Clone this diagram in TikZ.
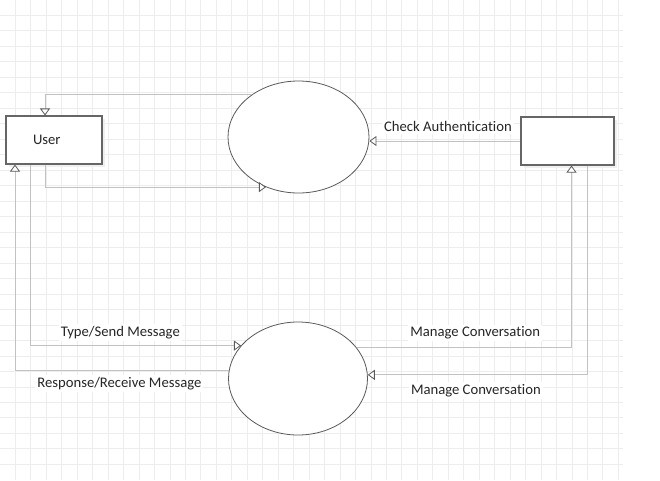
\documentclass[tikz,border=0pt]{standalone}
\usepackage{xcolor}
\usepackage{fontspec}
\setmainfont{Carlito}[Ligatures=NoCommon]
\usepackage{tikz}
\usetikzlibrary{shapes,arrows.meta,shadows}

\definecolor{gridgray}{HTML}{EDEDED}
\definecolor{linegray}{HTML}{C2C2C2}
\definecolor{edgegray}{HTML}{5A5A5A}

\begin{document}
\begin{tikzpicture}[
    x=1pt, y=-1pt,
    box/.style={draw=black!60, line width=1.1pt, fill=white, minimum height=48pt, align=left,
        drop shadow={shadow xshift=3pt, shadow yshift=-3pt, fill=black!6, opacity=1}},
    proc/.style={ellipse, draw=edgegray, line width=0.8pt, fill=white, inner sep=0pt},
    flow/.style={draw=linegray, line width=1pt,
        -{Triangle[length=7pt, width=10pt, fill=white, color=edgegray, line width=0.8pt]}},
    lbl/.style={font=\fontsize{14.67}{17}\selectfont, text=black!85, fill=white, inner sep=2pt}
]
    % page and grid
    \fill[white] (0,0) rectangle (660,480);
    \useasboundingbox (0,0) rectangle (660,480);
    \foreach \i in {1,...,40} \draw[gridgray, line width=1pt] (\i*15.46,0) -- (\i*15.46,480);
    \foreach \j in {1,...,30} \draw[gridgray, line width=1pt] (0,\j*15.48) -- (623,\j*15.48);

    % entities and processes
    \node[box, lbl, fill=white, minimum width=96pt, text width=42pt, inner xsep=27pt] (user) at (54,140) {User};
    \node[box, minimum width=93pt] (admin) at (567.5,141) {};
    \node[proc, minimum width=141pt, minimum height=112pt] (login) at (298.5,137) {};
    \node[proc, minimum width=139pt, minimum height=113pt] (chat) at (298,378.5) {};

    % data flows
    \draw[flow] (login.137) -| ([xshift=-9pt]user.north);
    \draw[flow] ([xshift=-9pt]user.south) |- (login.237);
    \draw[flow] (admin.west) -- (admin.west -| login.east)
        node[lbl, above=6.5pt, pos=0.48] (lcheck) {Check Authentication};
    \draw[flow] ([xshift=-24pt]user.south) |- (chat.150)
        node[lbl, above=4pt, pos=0.714] (lsend) {Type/Send Message};
    \draw[flow] (chat.173) -| ([xshift=-39pt]user.south)
        node[lbl, below=4.5pt, pos=0.256] (lrecv) {Response/Receive Message};
    \draw[flow] (chat.28) -| ([xshift=4pt]admin.south)
        node[lbl, above=5.5pt, pos=0.276] (lmng) {Manage Conversation};
    \draw[flow] ([xshift=20pt]admin.south) |- (chat.3)
        node[lbl, below=7pt, pos=0.754] (lmngb) {Manage Conversation};
\end{tikzpicture}
\end{document}
